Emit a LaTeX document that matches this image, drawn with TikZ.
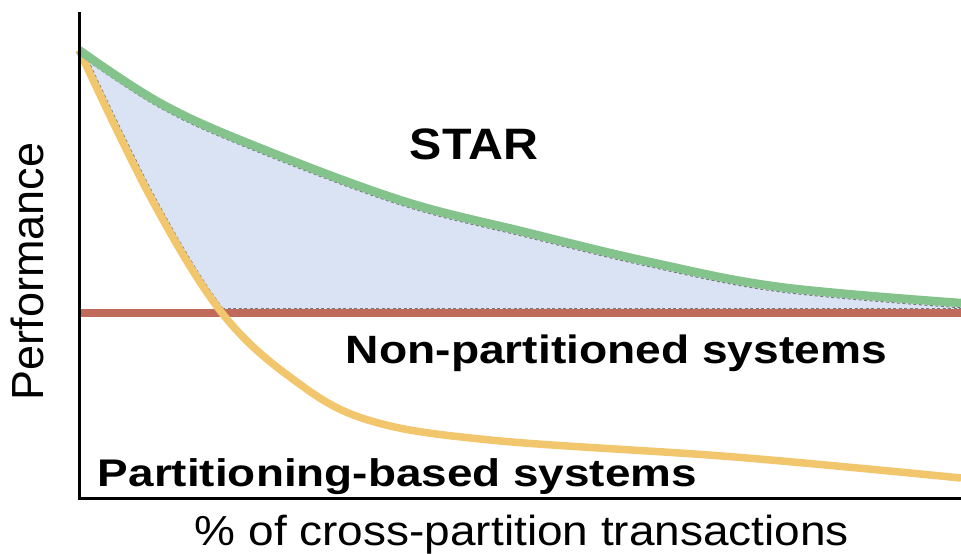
\documentclass[tikz,border=0pt]{standalone}
\usepackage{fontspec}
\setmainfont{Liberation Sans}
\usepackage{graphicx}
\definecolor{curvegreen}{RGB}{132,196,140}
\definecolor{curveorange}{RGB}{241,198,108}
\definecolor{curvered}{RGB}{192,106,92}
\definecolor{gainfill}{RGB}{218,227,243}
\definecolor{edgegray}{RGB}{120,120,125}

% sample points of the two performance curves
\newcommand\starplot{plot[smooth,tension=0.6] coordinates {(79,50) (160,103) (250,144) (400,200) (525,232) (650,262) (780,287) (961,303)}}
\newcommand\partplot{plot[smooth,tension=0.6] coordinates {(79,50) (151,198) (222,313) (294,380) (368,420) (490,440) (735,457) (961,478)}}

\begin{document}
\begin{tikzpicture}[x=1pt,y=-1pt,
  axisline/.style={line width=3pt,black},
  curveline/.style={line width=#1,line cap=butt},
  dashline/.style={edgegray,line width=1.1pt,dash pattern=on 3pt off 2.5pt},
  lbl/.style={anchor=base,inner sep=0pt}]
\useasboundingbox (0,0) rectangle (961,554);

% shaded gain region between the STAR curve and the better of the two baselines
\begin{scope}
  \clip \partplot -- (961,-10) -- (79,-10) -- cycle;
  \fill[gainfill] \starplot -- (961,313) -- (79,313) -- cycle;
  \begin{scope}
    \clip \starplot -- (961,309) -- (79,309) -- cycle;
    \draw[dashline,yshift=-4.8pt] \starplot;
    \draw[dashline,xshift=4.3pt] \partplot;
    \draw[dashline] (79,308.6) -- (961,308.6);
  \end{scope}
\end{scope}

% curves
\coordinate (redstart) at (79,313);
\coordinate (redend) at (961,313);
\draw[curveline=8pt,curvered] (redstart) -- (redend);
\draw[curveline=7.5pt,curveorange] \partplot;
\draw[curveline=8.5pt,curvegreen] \starplot;

% axes
\coordinate (ytop) at (79.5,12);
\coordinate (origin) at (79.5,498.5);
\coordinate (xend) at (961,498.5);
\draw[axisline] (ytop) -- (origin) -- (xend);

% labels
\node[lbl] (star) at (474,159)
  {\resizebox{128pt}{\height}{\fontsize{44}{48}\selectfont\bfseries STAR}};
\node[lbl] (nonpart) at (616.5,363.5)
  {\resizebox{541pt}{\height}{\fontsize{39.5}{44}\selectfont\bfseries Non-partitioned systems}};
\node[lbl] (partbased) at (397.5,486)
  {\resizebox{599pt}{\height}{\fontsize{38.5}{44}\selectfont\bfseries Partitioning-based systems}};
\node[lbl] (xlabel) at (522,545)
  {\resizebox{654pt}{\height}{\fontsize{42}{46}\selectfont \% of cross-partition transactions}};
\node[lbl,rotate=90] (ylabel) at (43,271.5)
  {\fontsize{45}{50}\selectfont Performance};
\end{tikzpicture}
\end{document}
